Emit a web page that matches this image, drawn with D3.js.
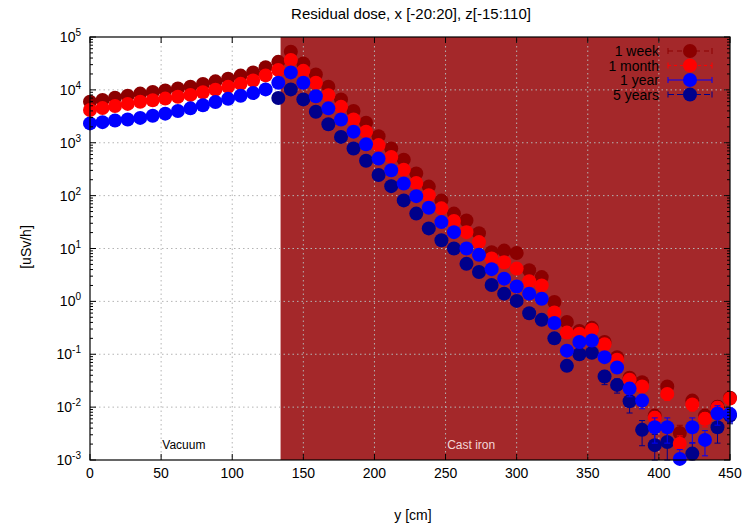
<!DOCTYPE html>
<html><head><meta charset="utf-8">
<script src="https://cdn.jsdelivr.net/npm/d3@7/dist/d3.min.js"></script>
<style>
body{margin:0;background:#fff}
svg{display:block}
text{font-family:"Liberation Sans",Arial,Helvetica,sans-serif;fill:#000}
</style>
</head><body>
<svg id="chart" width="743" height="527"></svg>
<script>
// ---------------- data ----------------
const positionsCm = [0,8.8,17.6,26.5,35.3,44.1,52.9,61.8,70.6,79.4,88.2,97.1,105.9,114.7,123.5,132.4,
  141.2,150.0,158.8,167.6,176.5,185.3,194.1,202.9,211.8,220.6,229.4,238.2,247.1,255.9,264.7,273.5,
  282.4,291.2,300.0,308.8,317.6,326.5,335.3,344.1,352.9,361.8,370.6,379.4,388.2,397.1,405.9,414.7,
  423.5,432.4,441.2,450.0];

const seriesNames = ["1 week","1 month","1 year","5 years"];
const seriesColors = ["#8b0000","#ff0000","#0000ff","#00008b"];

const week = [5960,6460,7080,7760,8510,9120,9770,10600,11500,12900,14500,16200,18600,21400,26900,33900,
  52500,31600,19500,11500,6610,3980,2400,1330,776,479,263,148,81.3,45.7,33.9,19.5,
  8.51,9.12,8.22,3.89,2.88,0.97,0.407,0.275,0.316,0.17,0.0881,0.0359,0.0295,0.00692,0.0245,0.00324,
  0.0133,0.00692,0.0102,0.0151];
const month = [4170,4520,4950,5430,5960,6380,6840,7410,8040,9020,10100,11400,13000,15000,18800,23700,
  36700,22900,13600,7940,4790,2750,1620,902,537,309,174,102,57.5,33.1,20.4,13.2,
  6.46,5.5,4.17,2.4,2.0,0.617,0.257,0.245,0.29,0.155,0.0785,0.0331,0.0245,0.0063,0.0178,0.00204,
  0.0112,0.00603,0.00977,0.0145];
const year = [2320,2450,2630,2750,2950,3240,3550,3980,4470,5130,5890,6760,7760,8710,10200,13600,
  21400,13600,7590,4470,2750,1620,933,501,302,170,97.7,58.9,31.6,20.4,10,7.59,
  4.07,2.69,1.91,1.4,1.12,0.389,0.117,0.17,0.182,0.0881,0.0562,0.0224,0.0133,0.00417,0.00417,0.00105,
  0.00417,0.0024,0.00759,0.0074];
const fiveYears = [null,null,null,null,null,null,null,null,null,null,null,null,null,null,null,7000,
  10200,6610,3850,2240,1290,776,457,245,151,81.3,45.7,24,14.3,10,5.13,3.59,
  2.04,1.4,1.02,0.596,0.447,0.2,0.0603,0.1,0.107,0.038,0.0263,0.0129,0.00372,0.00191,0.00219,null,
  0.00132,null,0.00417,0.00692];

// relative statistical errors of the last twelve points (index 40..51)
const weekErr  = [0.1,0.1,0.15,0.15,0.2,0.3,0.2,0.4,0.2,0.3,0.3,0.2];
const monthErr = [0.1,0.1,0.15,0.2,0.2,0.3,0.25,0.4,0.25,0.3,0.3,0.2];
const yearErr  = [0.15,0.2,0.2,0.3,0.3,0.5,0.5,0.5,0.5,0.5,0.4,0.3];
const fiveErr  = [0.2,0.3,0.3,0.4,0.5,0.6,0.6,0,0.6,0,0.5,0.3];

const xTicks = [0,50,100,150,200,250,300,350,400,450];
const yTickExp = [-3,-2,-1,0,1,2,3,4,5];
const castIronStart = 134;
const materialLabels = [{name:"Vacuum", at:66}, {name:"Cast iron", at:268}];

// ---------------- layout ----------------
const svg = d3.select("#chart");
const L = 90, R = 730, T = 37, B = 460;
const x = d3.scaleLinear().domain([0,450]).range([L,R]);
const y = d3.scaleLog().domain([1e-3,1e5]).range([B,T]);

// background material region
svg.append("rect").attr("x",x(castIronStart)).attr("y",T)
  .attr("width",x(450)-x(castIronStart)).attr("height",B-T).attr("fill","#a4282a");

// grid
const grid = svg.append("g").attr("stroke","#b4b4b4").attr("stroke-width",1).attr("stroke-dasharray","1.5,3");
xTicks.slice(1,-1).forEach(t=>grid.append("line").attr("x1",x(t)).attr("x2",x(t)).attr("y1",T).attr("y2",B));
yTickExp.slice(1,-1).forEach(e=>grid.append("line").attr("x1",L).attr("x2",R).attr("y1",y(Math.pow(10,e))).attr("y2",y(Math.pow(10,e))));

// material labels
svg.append("text").attr("x",x(materialLabels[0].at)).attr("y",449).attr("text-anchor","middle")
  .style("font-size","12px").text(materialLabels[0].name);
svg.append("text").attr("x",x(materialLabels[1].at)).attr("y",449).attr("text-anchor","middle")
  .style("font-size","12px").style("fill","#f3d6d6").text(materialLabels[1].name);

// series
const allSeries = [week, month, year, fiveYears];
const allErr = [weekErr, monthErr, yearErr, fiveErr];
const drawOrder = [3,0,1,2];
drawOrder.forEach(si=>{
  const vals = allSeries[si], errs = allErr[si], col = seriesColors[si];
  const g = svg.append("g");
  const pts = positionsCm.map((p,i)=>({p, v:vals[i], e: i>=40 ? errs[i-40]*vals[i] : 0}))
    .filter(d=>d.v!=null);
  // error bars
  pts.filter(d=>d.e>0).forEach(d=>{
    const y1 = y(d.v + d.e);
    const y2 = d.v - d.e > 1e-3 ? y(d.v - d.e) : B;
    g.append("line").attr("x1",x(d.p)).attr("x2",x(d.p)).attr("y1",y1).attr("y2",y2)
      .attr("stroke",col).attr("stroke-width",1);
    [y1,y2].forEach(yy=>g.append("line").attr("x1",x(d.p)-3).attr("x2",x(d.p)+3).attr("y1",yy).attr("y2",yy)
      .attr("stroke",col).attr("stroke-width",1));
  });
  g.selectAll("circle").data(pts).join("circle")
    .attr("cx",d=>x(d.p)).attr("cy",d=>y(d.v)).attr("r",7).attr("fill",col);
});

// border
svg.append("rect").attr("x",L).attr("y",T).attr("width",R-L).attr("height",B-T)
  .attr("fill","none").attr("stroke","#000").attr("stroke-width",1.2);

// ticks
const tk = svg.append("g").attr("stroke","#000").attr("stroke-width",1);
xTicks.forEach(t=>{
  tk.append("line").attr("x1",x(t)).attr("x2",x(t)).attr("y1",B).attr("y2",B-6);
  tk.append("line").attr("x1",x(t)).attr("x2",x(t)).attr("y1",T).attr("y2",T+6);
});
yTickExp.forEach(e=>{
  const yy = y(Math.pow(10,e));
  tk.append("line").attr("x1",L).attr("x2",L+6).attr("y1",yy).attr("y2",yy);
  tk.append("line").attr("x1",R).attr("x2",R-6).attr("y1",yy).attr("y2",yy);
  if (e<5) for (let m=2;m<=9;m++){
    const ym = y(m*Math.pow(10,e));
    tk.append("line").attr("x1",L).attr("x2",L+3).attr("y1",ym).attr("y2",ym);
    tk.append("line").attr("x1",R).attr("x2",R-3).attr("y1",ym).attr("y2",ym);
  }
});

// tick labels
xTicks.forEach(t=>svg.append("text").attr("x",x(t)).attr("y",478).attr("text-anchor","middle")
  .style("font-size","14px").text(t));
yTickExp.forEach(e=>{
  const t = svg.append("text").attr("x",81).attr("y",y(Math.pow(10,e))+5).attr("text-anchor","end")
    .style("font-size","14px");
  t.append("tspan").text("10");
  t.append("tspan").attr("dy",-6).style("font-size","10px").text(e);
});

// titles
svg.append("text").attr("x",411).attr("y",19).attr("text-anchor","middle").style("font-size","15px")
  .text("Residual dose, x [-20:20], z[-15:110]");
svg.append("text").attr("x",413).attr("y",520).attr("text-anchor","middle").style("font-size","14px")
  .text("y [cm]");
svg.append("text").attr("transform","translate(31,247) rotate(-90)").attr("text-anchor","middle")
  .style("font-size","14px").text("[uSv/h]");

// legend
const dashes = ["5,4","3,3",null,"6,3"];
seriesNames.forEach((n,i)=>{
  const yy = 51 + i*14.5;
  svg.append("text").attr("x",659).attr("y",yy+5).attr("text-anchor","end").style("font-size","14px").text(n);
  const g = svg.append("g").attr("stroke",seriesColors[i]).attr("stroke-width",1);
  g.append("line").attr("x1",668).attr("x2",712).attr("y1",yy).attr("y2",yy).attr("stroke-dasharray",dashes[i]);
  [668,712].forEach(xx=>g.append("line").attr("x1",xx).attr("x2",xx).attr("y1",yy-3).attr("y2",yy+3));
  svg.append("circle").attr("cx",690).attr("cy",yy).attr("r",7).attr("fill",seriesColors[i]);
});
</script>
</body></html>
